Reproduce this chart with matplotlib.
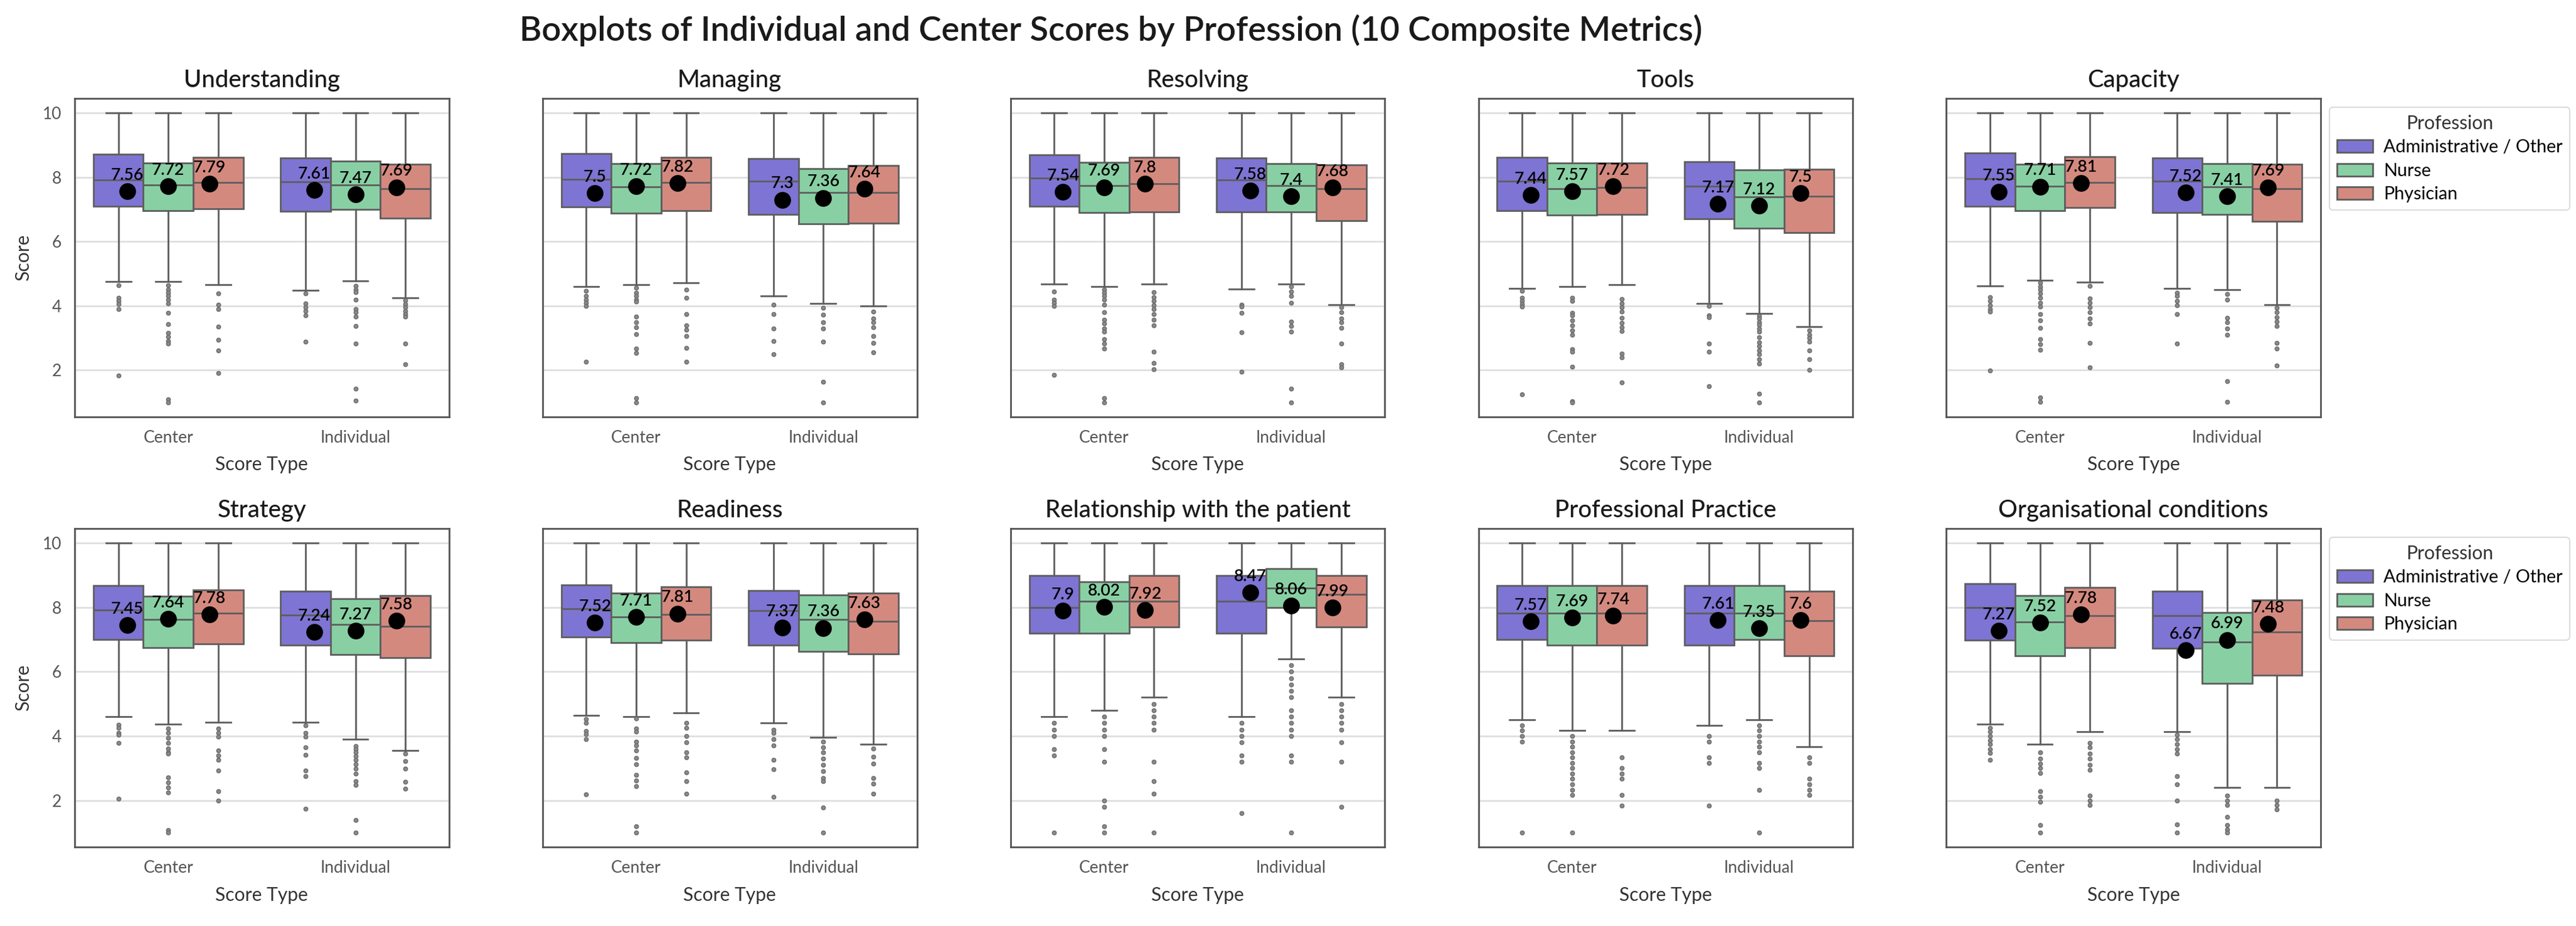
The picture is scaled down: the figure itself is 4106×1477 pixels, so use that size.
import matplotlib
matplotlib.use("Agg")
import matplotlib.pyplot as plt
from matplotlib.patches import Patch

plt.rcParams['font.family'] = ['Lato', 'DejaVu Sans']

# ---------------- data ----------------
metrics = ["Understanding", "Managing", "Resolving", "Tools", "Capacity",
           "Strategy", "Readiness", "Relationship with the patient",
           "Professional Practice", "Organisational conditions"]
score_types = ["Center", "Individual"]
professions = ["Administrative / Other", "Nurse", "Physician"]

# order within each metric: Center-Admin, Center-Nurse, Center-Phys, Ind-Admin, Ind-Nurse, Ind-Phys
q3 = [
    [8.71, 8.45, 8.61, 8.59, 8.50, 8.40],
    [8.74, 8.42, 8.61, 8.58, 8.26, 8.37],
    [8.70, 8.46, 8.61, 8.60, 8.43, 8.38],
    [8.61, 8.44, 8.44, 8.48, 8.23, 8.24],
    [8.76, 8.41, 8.63, 8.60, 8.43, 8.41],
    [8.68, 8.35, 8.54, 8.50, 8.26, 8.36],
    [8.70, 8.45, 8.64, 8.52, 8.39, 8.44],
    [9.00, 8.80, 9.00, 9.00, 9.20, 9.00],
    [8.67, 8.67, 8.67, 8.67, 8.67, 8.50],
    [8.74, 8.36, 8.62, 8.50, 7.85, 8.23],
]
medians = [
    [7.91, 7.76, 7.83, 7.85, 7.76, 7.65],
    [7.94, 7.70, 7.83, 7.87, 7.52, 7.53],
    [7.97, 7.75, 7.80, 7.91, 7.75, 7.65],
    [7.87, 7.64, 7.68, 7.72, 7.38, 7.40],
    [7.95, 7.72, 7.83, 7.87, 7.70, 7.64],
    [7.91, 7.62, 7.82, 7.77, 7.47, 7.42],
    [7.95, 7.70, 7.79, 7.89, 7.62, 7.57],
    [8.00, 8.20, 8.20, 8.20, 8.60, 8.40],
    [7.83, 7.83, 7.83, 7.83, 7.83, 7.58],
    [8.00, 7.55, 7.75, 7.74, 6.93, 7.23],
]
q1 = [
    [7.10, 6.96, 7.01, 6.94, 7.00, 6.73],
    [7.07, 6.89, 6.97, 6.85, 6.56, 6.58],
    [7.09, 6.91, 6.93, 6.93, 6.92, 6.64],
    [6.96, 6.83, 6.85, 6.71, 6.41, 6.27],
    [7.09, 6.97, 7.05, 6.91, 6.84, 6.63],
    [7.01, 6.75, 6.87, 6.83, 6.53, 6.44],
    [7.08, 6.91, 6.98, 6.83, 6.64, 6.56],
    [7.20, 7.20, 7.40, 7.20, 8.00, 7.40],
    [7.00, 6.83, 6.83, 6.83, 7.00, 6.50],
    [6.99, 6.50, 6.74, 6.73, 5.63, 5.90],
]
whisker_low = [
    [4.76, 4.76, 4.67, 4.49, 4.78, 4.26],
    [4.61, 4.66, 4.72, 4.31, 4.08, 3.99],
    [4.68, 4.61, 4.68, 4.52, 4.68, 4.03],
    [4.54, 4.60, 4.66, 4.08, 3.77, 3.36],
    [4.63, 4.80, 4.73, 4.54, 4.51, 4.04],
    [4.60, 4.38, 4.42, 4.43, 3.91, 3.56],
    [4.64, 4.61, 4.73, 4.41, 3.97, 3.74],
    [4.60, 4.80, 5.20, 4.60, 6.40, 5.20],
    [4.50, 4.17, 4.17, 4.33, 4.50, 3.67],
    [4.38, 3.74, 4.13, 4.13, 2.40, 2.40],
]
whisker_high = [[10.0] * 6 for _ in range(10)]
means = [
    [7.56, 7.72, 7.79, 7.61, 7.47, 7.69],
    [7.50, 7.72, 7.82, 7.30, 7.36, 7.64],
    [7.54, 7.69, 7.80, 7.58, 7.40, 7.68],
    [7.44, 7.57, 7.72, 7.17, 7.12, 7.50],
    [7.55, 7.71, 7.81, 7.52, 7.41, 7.69],
    [7.45, 7.64, 7.78, 7.24, 7.27, 7.58],
    [7.52, 7.71, 7.81, 7.37, 7.36, 7.63],
    [7.90, 8.02, 7.92, 8.47, 8.06, 7.99],
    [7.57, 7.69, 7.74, 7.61, 7.35, 7.60],
    [7.27, 7.52, 7.78, 6.67, 6.99, 7.48],
]
fliers = [
    [  # Understanding
        [4.64, 4.26, 4.15, 4.05, 3.9, 1.83],
        [4.64, 4.5, 4.4, 4.3, 4.2, 4.07, 3.78, 3.43, 3.16, 3.05, 2.9, 2.83, 1.09, 1.0],
        [4.39, 4.03, 3.9, 3.36, 2.95, 2.61, 1.92],
        [4.38, 4.07, 3.95, 3.85, 3.7, 2.88],
        [4.62, 4.5, 4.42, 4.2, 3.9, 3.8, 3.66, 3.37, 2.83, 1.43, 1.05],
        [4.18, 4.05, 3.95, 3.85, 3.75, 3.66, 2.83, 2.19],
    ],
    [  # Managing
        [4.46, 4.3, 4.2, 4.1, 4.0, 2.27],
        [4.56, 4.4, 4.3, 4.2, 4.13, 3.67, 3.5, 3.33, 3.12, 2.68, 2.54, 1.14, 1.0],
        [4.5, 4.26, 3.74, 3.4, 3.25, 3.07, 2.7, 2.27],
        [4.03, 3.74, 3.29, 2.91, 2.5],
        [3.93, 3.73, 3.5, 3.3, 2.89, 1.64, 1.0],
        [3.83, 3.6, 3.5, 3.33, 3.07, 2.84, 2.56],
    ],
    [  # Resolving
        [4.45, 4.2, 4.1, 4.0, 1.86],
        [4.5, 4.4, 4.3, 4.2, 4.03, 3.81, 3.56, 3.45, 3.3, 3.19, 2.97, 2.83, 2.68, 1.14, 1.0],
        [4.42, 4.28, 4.16, 4.02, 3.9, 3.75, 3.56, 3.39, 2.58, 2.23, 2.03],
        [4.03, 3.98, 3.79, 3.17, 1.95],
        [4.6, 4.45, 4.3, 4.1, 3.52, 3.38, 3.2, 1.43, 1.0],
        [3.96, 3.8, 3.6, 3.5, 3.32, 2.82, 2.18, 2.08],
    ],
    [  # Tools
        [4.46, 4.26, 4.15, 4.05, 3.98, 1.24],
        [4.26, 4.16, 3.79, 3.7, 3.55, 3.4, 3.24, 3.1, 2.65, 2.58, 2.1, 1.04, 1.0],
        [4.22, 4.08, 3.95, 3.82, 3.62, 3.48, 3.33, 3.22, 2.52, 2.4, 1.62],
        [4.0, 3.7, 3.64, 2.82, 2.57, 1.51],
        [3.69, 3.6, 3.5, 3.42, 3.3, 3.2, 3.02, 2.86, 2.75, 2.62, 2.5, 2.34, 2.2, 1.26, 1.0],
        [3.24, 3.1, 3.0, 2.88, 2.62, 2.35, 2.01],
    ],
    [  # Capacity
        [4.28, 4.15, 4.02, 3.9, 3.83, 1.99],
        [4.71, 4.6, 4.5, 4.38, 4.25, 4.1, 3.97, 3.75, 3.55, 3.32, 2.97, 2.8, 2.64, 1.15, 1.02],
        [4.63, 4.23, 4.1, 3.95, 3.8, 3.6, 3.45, 2.84, 2.09],
        [4.41, 4.3, 4.15, 4.02, 3.74, 2.83],
        [4.37, 4.2, 3.63, 3.5, 3.3, 3.1, 1.65, 1.02],
        [3.93, 3.8, 3.65, 3.52, 3.37, 2.84, 2.67, 2.15],
    ],
    [  # Strategy
        [4.36, 4.25, 4.1, 4.03, 3.79, 2.06],
        [4.23, 4.1, 3.95, 3.78, 3.62, 3.5, 3.45, 2.72, 2.55, 2.4, 2.25, 1.07, 1.0],
        [4.23, 4.1, 3.98, 3.56, 3.4, 3.26, 2.92, 2.28, 2.0],
        [4.33, 4.1, 3.99, 3.64, 3.42, 2.92, 2.75, 1.73],
        [3.69, 3.6, 3.5, 3.38, 3.25, 3.12, 2.98, 2.83, 2.6, 2.48, 1.38, 1.0],
        [3.46, 3.22, 2.99, 2.58, 2.37],
    ],
    [  # Readiness
        [4.52, 4.4, 4.16, 4.05, 3.9, 2.18],
        [4.54, 4.23, 4.13, 3.83, 3.7, 3.56, 3.32, 3.12, 2.79, 2.62, 2.45, 1.2, 1.0],
        [4.4, 4.26, 4.0, 3.81, 3.49, 3.33, 2.87, 2.6, 2.21],
        [4.2, 4.1, 3.9, 3.7, 3.26, 2.97, 2.11],
        [3.82, 3.64, 3.5, 3.3, 3.1, 2.9, 2.7, 2.6, 1.78, 1.0],
        [3.62, 3.36, 3.15, 2.7, 2.52, 2.21],
    ],
    [  # Relationship with the patient
        [4.4, 4.2, 4.0, 3.6, 3.4, 1.0],
        [4.6, 4.4, 4.2, 4.0, 3.6, 3.2, 2.0, 1.8, 1.2, 1.0],
        [5.0, 4.8, 4.6, 4.4, 4.2, 3.2, 2.6, 2.2, 1.0],
        [4.4, 4.2, 4.0, 3.8, 3.4, 3.2, 1.6],
        [6.2, 6.0, 5.8, 5.6, 5.4, 5.2, 4.8, 4.6, 4.4, 4.2, 4.0, 3.4, 3.2, 1.0],
        [5.0, 4.8, 4.6, 4.4, 4.2, 3.8, 3.2, 1.8],
    ],
    [  # Professional Practice
        [4.33, 4.17, 4.0, 3.83, 1.0],
        [4.0, 3.83, 3.67, 3.5, 3.33, 3.17, 3.0, 2.83, 2.67, 2.5, 2.33, 2.17, 1.0],
        [3.33, 3.0, 2.83, 2.67, 2.17, 1.83],
        [4.0, 3.83, 3.33, 3.17, 1.83],
        [4.33, 4.17, 4.0, 3.83, 3.67, 3.5, 3.17, 3.0, 2.33, 1.0],
        [3.33, 3.17, 2.67, 2.5, 2.33, 2.17],
    ],
    [  # Organisational conditions
        [4.26, 4.13, 4.0, 3.87, 3.74, 3.6, 3.47, 3.26],
        [3.49, 3.29, 3.15, 3.0, 2.85, 2.28, 2.1, 1.96, 1.24, 1.0],
        [3.79, 3.65, 3.45, 3.3, 3.1, 2.95, 2.15, 2.0, 1.85],
        [4.03, 3.9, 3.75, 3.6, 3.45, 2.75, 2.5, 2.0, 1.26, 1.0],
        [2.15, 2.0, 1.85, 1.49, 1.24, 1.1, 1.0],
        [2.0, 1.85, 1.71],
    ],
]

# ---------------- style ----------------
palette = ["#7E74D3", "#88D0A4", "#D4897F"]
line_col = "#5e5e5e"
box_w = 0.8 / 3
box_off = [-box_w, 0.0, box_w]
mean_off = [-0.22, 0.0, 0.22]

fig = plt.figure(figsize=(4106 / 200, 1477 / 200), dpi=200)
gs = fig.add_gridspec(2, 5, left=119 / 4106, right=3699 / 4106,
                      bottom=1 - 1351 / 1477, top=1 - 157 / 1477,
                      wspace=0.25, hspace=0.351)

for m, name in enumerate(metrics):
    r, c = divmod(m, 5)
    ax = fig.add_subplot(gs[r, c])
    ax.set_facecolor("white")
    ax.set_axisbelow(True)
    ax.yaxis.grid(True, color="#dcdcdc", linewidth=0.9)
    ax.xaxis.grid(False)

    stats, pos, cols = [], [], []
    for s in range(2):
        for p in range(3):
            k = s * 3 + p
            stats.append(dict(med=medians[m][k], q1=q1[m][k], q3=q3[m][k],
                              whislo=whisker_low[m][k], whishi=whisker_high[m][k],
                              fliers=fliers[m][k]))
            pos.append(s + box_off[p])
            cols.append(palette[p])
    bp = ax.bxp(stats, positions=pos, widths=box_w, patch_artist=True,
                showfliers=True, manage_ticks=False,
                boxprops=dict(edgecolor=line_col, linewidth=1.0),
                medianprops=dict(color=line_col, linewidth=1.0),
                whiskerprops=dict(color=line_col, linewidth=1.0),
                capprops=dict(color=line_col, linewidth=1.0),
                flierprops=dict(marker="o", markersize=2.3, markerfacecolor="#8a8a8a",
                                markeredgecolor="#6a6a6a", markeredgewidth=0.5,
                                linestyle="none"))
    for patch, col in zip(bp["boxes"], cols):
        patch.set_facecolor(col)

    for s in range(2):
        for p in range(3):
            k = s * 3 + p
            x = s + mean_off[p]
            v = means[m][k]
            ax.plot([x], [v], marker="o", color="black", markersize=8.6,
                    linestyle="none", zorder=6)
            ax.text(x, v + 0.5, f"{round(v, 2)}", ha="center", va="center",
                    fontsize=9.5, fontweight="semibold", color="black", zorder=7)

    ax.set_xlim(-0.5, 1.5)
    ax.set_ylim(0.55, 10.45)
    ax.set_xticks([0, 1])
    ax.set_xticklabels(score_types)
    ax.set_yticks([2, 4, 6, 8, 10])
    ax.tick_params(axis="both", length=0, pad=7.5, labelsize=9.5, labelcolor="#555555")
    if c == 0:
        ax.set_ylabel("Score", fontsize=10.8, color="#333333", labelpad=6)
    else:
        ax.set_yticklabels([])
    ax.set_xlabel("Score Type", fontsize=10.8, color="#333333", labelpad=6)
    ax.set_title(name, fontsize=13.8, fontweight="medium", color="#1a1a1a", pad=6.5)
    for sp in ax.spines.values():
        sp.set_color("#555555")
        sp.set_linewidth(1.0)

    if c == 4:
        handles = [Patch(facecolor=palette[i], edgecolor=line_col, linewidth=1.0,
                         label=professions[i]) for i in range(3)]
        leg = ax.legend(handles=handles, title="Profession", loc="upper left",
                        bbox_to_anchor=(1.0, 1.0), fontsize=10.3, title_fontsize=10.8,
                        frameon=True, fancybox=True, labelspacing=0.4,
                        handletextpad=0.6, borderpad=0.4)
        leg.get_frame().set_edgecolor("#d5d5d5")
        leg.get_frame().set_linewidth(0.8)
        leg.get_title().set_color("#333333")

fig.suptitle("Boxplots of Individual and Center Scores by Profession (10 Composite Metrics)",
             x=1771 / 4106, y=1 - 48 / 1477, va="center", fontsize=19.5,
             fontweight="semibold", color="#1a1a1a")

fig.savefig("out.png", dpi=200, facecolor="white")
